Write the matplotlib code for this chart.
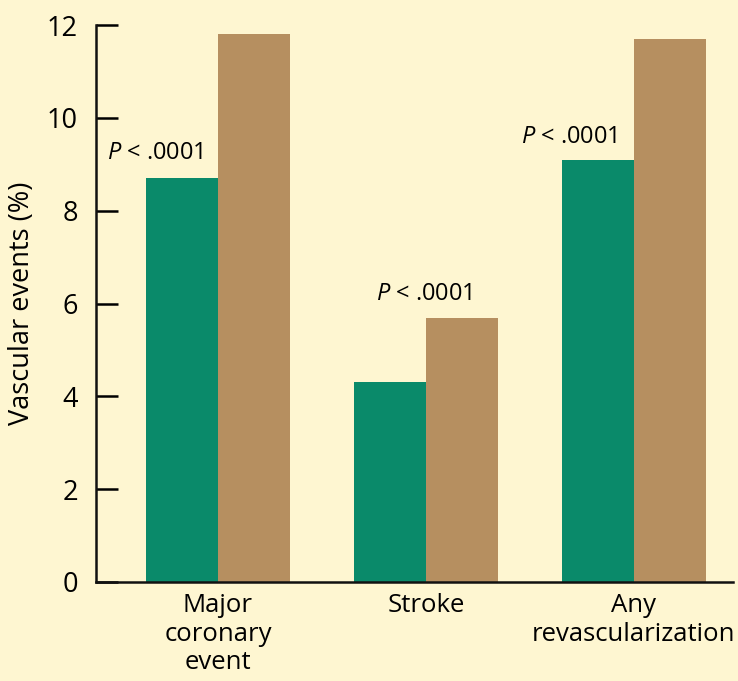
import matplotlib
matplotlib.use("Agg")
import numpy as np
import matplotlib.pyplot as plt

# --- Data ---
categories = ["Major\ncoronary\nevent", "Stroke", "Any\nrevascularization"]
treated = [8.7, 4.3, 9.1]     # green bars
control = [11.8, 5.7, 11.7]   # tan bars
p_labels = ["$P$ < .0001", "$P$ < .0001", "$P$ < .0001"]
y_ticks = [0, 2, 4, 6, 8, 10, 12]

# --- Styling ---
BG = "#FEF6D1"
GREEN = "#0A8A6A"
TAN = "#B68F60"

plt.rcParams.update({
    "font.family": ["Open Sans", "DejaVu Sans"],
    "font.size": 19,
    "mathtext.fontset": "custom",
    "mathtext.it": "Open Sans:italic",
    "mathtext.rm": "Open Sans",
})

fig = plt.figure(figsize=(7.38, 6.81), dpi=100, facecolor=BG)
ax = fig.add_axes([0.130, 0.1454, 0.863, 0.8176])
ax.set_facecolor(BG)

x = np.arange(len(categories))
w = 0.345
ax.bar(x - w / 2, treated, width=w, color=GREEN, linewidth=0)
ax.bar(x + w / 2, control, width=w, color=TAN, linewidth=0)

# P-value annotations
ax.text(-0.30, treated[0] + 0.55, p_labels[0], ha="center", va="center", fontsize=17)
ax.text(0.99, control[1] + 0.5, p_labels[1], ha="center", va="center", fontsize=17)
ax.text(1.69, treated[2] + 0.5, p_labels[2], ha="center", va="center", fontsize=17)

ax.set_xlim(-0.587, 2.476)
ax.set_ylim(0, 12)
ax.set_yticks(y_ticks)
ax.set_xticks(x)
ax.set_xticklabels(categories, linespacing=1.18)

for s in ("top", "right"):
    ax.spines[s].set_visible(False)
for s in ("left", "bottom"):
    ax.spines[s].set_linewidth(1.8)
    ax.spines[s].set_color("#111111")

ax.tick_params(axis="y", direction="in", length=16, width=1.8, pad=13, labelsize=19.5)
ax.tick_params(axis="x", length=0, pad=8, labelsize=18.5)

ax.set_ylabel("Vascular events (%)", fontsize=19.5, labelpad=8)

fig.savefig("out.png", dpi=100, facecolor=BG)
